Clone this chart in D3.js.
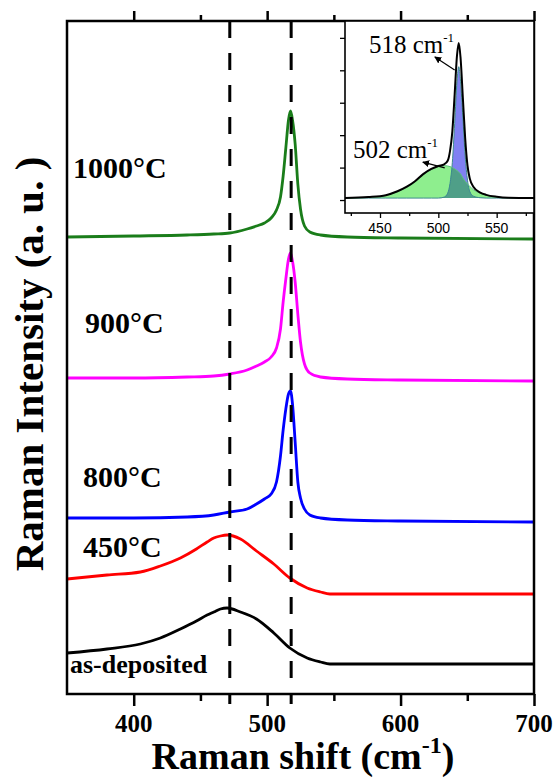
<!DOCTYPE html>
<html>
<head>
<meta charset="utf-8">
<script src="https://cdn.jsdelivr.net/npm/d3@7"></script>
<style>
  html, body { margin: 0; padding: 0; background: #fff; overflow: hidden; }
  svg { display: block; }
  text { font-family: "Liberation Serif", "Times New Roman", serif; }
</style>
</head>
<body>
<svg id="chart"></svg>
<script>
// Raman spectra, a.u. values
const crystShift = [350, 400, 440, 460, 472, 485, 492, 498, 503, 507, 510, 512, 514, 516, 517.5, 519, 521, 523, 525, 528, 532, 540, 560, 600, 700];
const amorphShift = [350, 380, 405, 420, 435, 447, 455, 460, 465, 470, 480, 492, 505, 517, 530, 540, 547, 700];

const asDeposited = [41, 45, 50, 56, 65, 73, 79, 82, 85, 86, 82, 75, 61, 46, 36, 32, 30, 30];
const t450 = [115, 119, 122, 128, 136, 145, 152, 156, 158, 159, 155, 143, 130, 116, 106, 102, 100, 100];
const t800 = [176, 176, 177, 179, 182, 185, 190, 195, 200, 212, 238, 264, 285, 300, 303, 290, 252, 212, 196, 185, 179, 176, 174, 173, 172];
const t900 = [316, 316, 317, 318, 320, 324, 328, 332, 337, 346, 365, 392, 415, 435, 441, 433, 412, 380, 352, 330, 321, 317, 315, 314, 313];
const t1000 = [457, 458, 459, 460, 461, 465, 468, 471, 476, 484, 497, 518, 546, 574, 583, 574, 550, 510, 485, 468, 462, 459, 457, 456, 455];

const seriesNames = ['as-deposited', '450°C', '800°C', '900°C', '1000°C'];
const seriesColors = ['#000000', '#ff0000', '#0000ff', '#ff00ff', '#1a7d1a'];

const xMajor = [400, 500, 600, 700];
const xMinor = [450, 550, 650];
const guideLines = [472, 518];

// inset: peak fit of the 1000°C spectrum
const insetShift = [420, 440, 455, 465, 473, 480, 487, 494, 500, 505, 508, 510, 512, 514, 516, 517.5, 519, 521, 523, 525, 527, 530, 536, 541, 550, 560, 582];
const measured = [0, 0.03, 0.09, 0.21, 0.35, 0.52, 0.74, 0.9, 0.99, 1.04, 1.15, 1.45, 2.05, 3.2, 4.4, 4.78, 4.35, 3.1, 1.85, 1.0, 0.6, 0.35, 0.17, 0.1, 0.04, 0.01, 0];
const fit502 = [0, 0.02, 0.08, 0.2, 0.33, 0.5, 0.72, 0.88, 0.97, 1.0, 0.99, 0.97, 0.94, 0.9, 0.85, 0.8, 0.75, 0.62, 0.52, 0.43, 0.36, 0.26, 0.15, 0.09, 0.03, 0.01, 0];
const fit518 = [0, 0, 0, 0, 0, 0, 0, 0, 0, 0.03, 0.15, 0.45, 1.1, 2.3, 3.6, 4.05, 3.6, 2.5, 1.3, 0.55, 0.2, 0.06, 0.01, 0, 0, 0, 0];
const insetBase = 0.06;
const insetMajor = [450, 500, 550];
const insetMinor = [425, 475, 525, 575];
const insetYTicks = [0, 1, 2, 3, 4, 5];

const svgWidth = 556, svgHeight = 779;
const margin = {top: 21, right: 22, bottom: 85, left: 67};
const innerWidth = svgWidth - margin.left - margin.right;
const innerHeight = svgHeight - margin.top - margin.bottom;

const svg = d3.select('#chart').attr('width', svgWidth).attr('height', svgHeight);
const g = svg.append('g').attr('transform', `translate(${margin.left},${margin.top})`);

const xScale = d3.scaleLinear().domain([350, 700]).range([0, innerWidth]);
const yScale = d3.scaleLinear().domain([0, 673]).range([innerHeight, 0]);

const spectra = [
  {shift: amorphShift, vals: asDeposited},
  {shift: amorphShift, vals: t450},
  {shift: crystShift, vals: t800},
  {shift: crystShift, vals: t900},
  {shift: crystShift, vals: t1000}
];

const line = d3.line()
  .x(d => xScale(d[0]))
  .y(d => yScale(d[1]))
  .curve(d3.curveMonotoneX);

g.selectAll('path.spec')
  .data(spectra)
  .join('path')
  .attr('class', 'spec')
  .attr('d', d => line(d.shift.map((s, i) => [s, d.vals[i]])))
  .attr('fill', 'none')
  .attr('stroke', (d, i) => seriesColors[i])
  .attr('stroke-width', 2.8)
  .attr('stroke-linejoin', 'round');

// dashed guides
g.selectAll('line.guide')
  .data(guideLines)
  .join('line')
  .attr('x1', d => xScale(d)).attr('x2', d => xScale(d))
  .attr('y1', 0).attr('y2', innerHeight + 10)
  .attr('stroke', '#000')
  .attr('stroke-width', 3)
  .attr('stroke-dasharray', '17,15');

// axes: tick marks from d3 axes, labels placed as plain texts
function tickOnly(sel, w) {
  sel.select('.domain').remove();
  sel.selectAll('line').attr('stroke', '#000').attr('stroke-width', w);
  sel.selectAll('text').remove();
}
g.append('g').attr('transform', `translate(0,${innerHeight})`)
  .call(d3.axisBottom(xScale).tickValues(xMajor).tickSize(12))
  .call(s => tickOnly(s, 2.5));
g.append('g').attr('transform', `translate(0,${innerHeight})`)
  .call(d3.axisBottom(xScale).tickValues(xMinor).tickSize(7))
  .call(s => tickOnly(s, 2.5));
g.append('g')
  .call(d3.axisTop(xScale).tickValues(xMajor).tickSize(10))
  .call(s => tickOnly(s, 2.5));
g.append('g')
  .call(d3.axisTop(xScale).tickValues(xMinor).tickSize(6))
  .call(s => tickOnly(s, 2.5));

svg.selectAll('text.xtick')
  .data(xMajor)
  .join('text')
  .attr('class', 'xtick')
  .attr('x', d => margin.left + xScale(d))
  .attr('y', margin.top + innerHeight + 38)
  .attr('text-anchor', 'middle')
  .style('font-size', '25px').style('font-weight', 'bold')
  .text(d => d);

g.append('rect')
  .attr('width', innerWidth).attr('height', innerHeight)
  .attr('fill', 'none').attr('stroke', '#000').attr('stroke-width', 2.5);

// curve labels
const labelPos = [[3, 652, 26], [16, 536, 30], [16, 466, 30], [18, 312, 30], [6, 157, 30]];
g.selectAll('text.lab')
  .data(seriesNames)
  .join('text')
  .attr('class', 'lab')
  .attr('x', (d, i) => labelPos[i][0])
  .attr('y', (d, i) => labelPos[i][1])
  .style('font-size', (d, i) => labelPos[i][2] + 'px')
  .style('font-weight', 'bold')
  .text(d => d);

// axis titles
// rotated title: local point (278,400) lands at (43,364)
svg.append('text')
  .attr('x', 278).attr('y', 400)
  .attr('transform', 'translate(-357,642) rotate(-90)')
  .attr('text-anchor', 'middle')
  .style('font-size', '41px').style('font-weight', 'bold')
  .text('Raman Intensity (a. u. )');

const xt = svg.append('text')
  .attr('x', 303).attr('y', 769)
  .attr('text-anchor', 'middle')
  .style('font-size', '38px').style('font-weight', 'bold');
xt.append('tspan').text('Raman shift (cm');
xt.append('tspan').attr('dy', -16).style('font-size', '24px').text('-1');
xt.append('tspan').attr('dy', 16).text(')');

// ---- inset ----
const ix = d3.scaleLinear().domain([420, 582]).range([345, 534]);
const iy = d3.scaleLinear().domain([-0.4, 5.52]).range([213, 21]);

svg.append('clipPath').attr('id', 'insetClip')
  .append('rect').attr('x', 345).attr('y', 21).attr('width', 189).attr('height', 192);

const ins = svg.append('g');
ins.append('rect').attr('x', 345).attr('y', 21).attr('width', 189).attr('height', 192).attr('fill', '#fff');

const plot = ins.append('g').attr('clip-path', 'url(#insetClip)');
const area = d3.area()
  .x(d => ix(d[0]))
  .y0(iy(insetBase))
  .y1(d => iy(insetBase + d[1]))
  .curve(d3.curveMonotoneX);
const pts = arr => insetShift.map((s, i) => [s, arr[i]]);

plot.append('path').attr('d', area(pts(fit502))).attr('fill', '#8eee8e');
plot.append('path').attr('d', area(pts(fit518))).attr('fill', '#8080f2');
plot.append('path').attr('d', area(insetShift.map((s, i) => [s, Math.min(fit502[i], fit518[i])])))
  .attr('fill', '#4f9f88');
const iline = d3.line().x(d => ix(d[0])).y(d => iy(insetBase + d[1])).curve(d3.curveMonotoneX);
plot.append('path').attr('d', iline(pts(fit518))).attr('fill', 'none').attr('stroke', '#3c8c8c').attr('stroke-width', 1);
plot.append('path').attr('d', iline(pts(fit502))).attr('fill', 'none').attr('stroke', '#5fbf7f').attr('stroke-width', 1);
plot.append('path').attr('d', iline(pts(measured))).attr('fill', 'none').attr('stroke', '#000').attr('stroke-width', 2);

ins.append('g').attr('transform', 'translate(0,213)')
  .call(d3.axisBottom(ix).tickValues(insetMajor).tickSize(5))
  .call(s => tickOnly(s, 1.3));
ins.append('g').attr('transform', 'translate(0,213)')
  .call(d3.axisBottom(ix).tickValues(insetMinor).tickSize(3))
  .call(s => tickOnly(s, 1.3));
ins.append('g').attr('transform', 'translate(345,0)')
  .call(d3.axisLeft(iy).tickValues(insetYTicks).tickSize(5))
  .call(s => tickOnly(s, 1.3));
ins.selectAll('text.itick')
  .data(insetMajor)
  .join('text')
  .attr('class', 'itick')
  .attr('x', d => ix(d))
  .attr('y', 233)
  .attr('text-anchor', 'middle')
  .style('font-family', '"Liberation Sans", Arial, sans-serif')
  .style('font-size', '14px')
  .text(d => d);
ins.append('rect').attr('x', 345).attr('y', 21).attr('width', 189).attr('height', 192)
  .attr('fill', 'none').attr('stroke', '#000').attr('stroke-width', 1.6);

// peak annotations
svg.append('defs').append('marker')
  .attr('id', 'arrow').attr('viewBox', '0 0 10 10')
  .attr('refX', 9).attr('refY', 5)
  .attr('markerWidth', 7).attr('markerHeight', 7)
  .attr('markerUnits', 'userSpaceOnUse')
  .attr('orient', 'auto')
  .append('path').attr('d', 'M0,0 L10,5 L0,10 z').attr('fill', '#000');

const notes = [
  {text: '518 cm', tail: [514, 4.01], head: [497, 4.41], at: [440.5, 4.54]},
  {text: '502 cm', tail: [505.5, 0.99], head: [486.7, 1.17], at: [426.8, 1.30]}
];
notes.forEach(n => {
  ins.append('line')
    .attr('x1', ix(n.tail[0])).attr('y1', iy(n.tail[1]))
    .attr('x2', ix(n.head[0])).attr('y2', iy(n.head[1]))
    .attr('stroke', '#000').attr('stroke-width', 1.2)
    .attr('marker-end', 'url(#arrow)');
  const t = ins.append('text')
    .attr('x', ix(n.at[0])).attr('y', iy(n.at[1]))
    .style('font-size', '25px');
  t.append('tspan').text(n.text);
  t.append('tspan').attr('dy', -11).style('font-size', '13px').text('-1');
});
</script>
</body>
</html>
